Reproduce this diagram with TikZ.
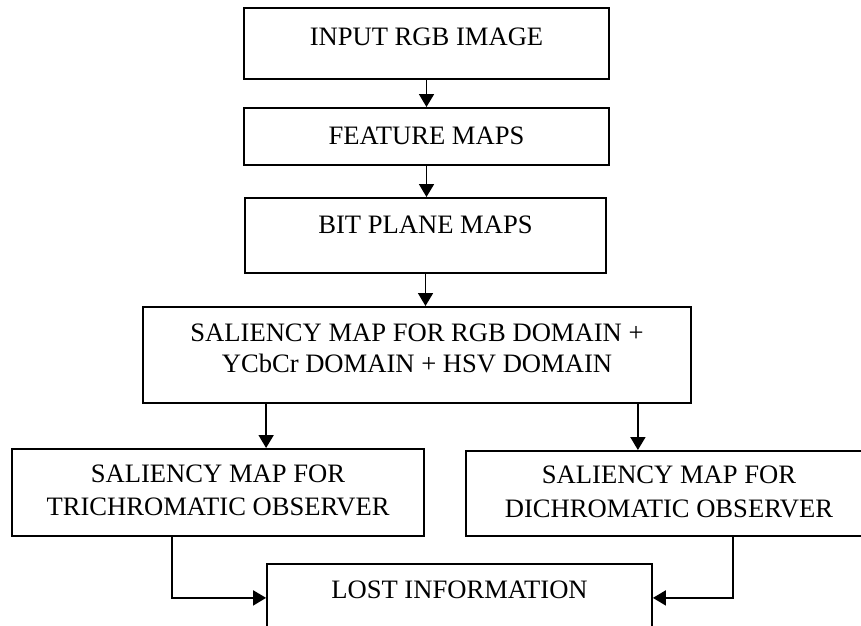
\documentclass[tikz,border=0pt]{standalone}
\usepackage{fontspec}
\setmainfont{Liberation Serif}
\usetikzlibrary{arrows.meta}
\newcommand{\padup}[1]{\rule{0pt}{#1pt}}
\newcommand{\paddown}[1]{\rule[-#1pt]{0pt}{#1pt}}
\begin{document}
\begin{tikzpicture}[x=1pt,y=-1pt,
    bx/.style={draw,line width=1.8pt,inner sep=0pt,anchor=north,align=center,font=\fontsize{26.6}{31}\selectfont},
    ar/.style={line width=1.8pt,-{Triangle[length=13pt,width=15pt]}}]
        \useasboundingbox (0,0) rectangle (861,625);
        \clip (0,0) rectangle (861,625);
        \node[bx,minimum width=365pt] (b1) at (426.5,7) {\padup{38}INPUT RGB IMAGE\paddown{33}};
        \node[bx,minimum width=365pt] (b2) at (426.5,107) {\padup{37}FEATURE MAPS\paddown{20}};
        \node[bx,minimum width=361pt] (b3) at (425.5,197) {\padup{36}BIT PLANE MAPS\paddown{39}};
        \node[bx,minimum width=548pt] (b4) at (417,306) {\padup{35}SALIENCY MAP FOR RGB DOMAIN +\\YCbCr DOMAIN + HSV DOMAIN\paddown{30}};
        \node[bx,minimum width=412pt] (b5) at (218,448) {\padup{34}SALIENCY MAP FOR\\[2pt]TRICHROMATIC OBSERVER\paddown{20}};
        \node[bx,minimum width=406pt] (b6) at (669,450) {\padup{33}SALIENCY MAP FOR\\[3pt]DICHROMATIC OBSERVER\paddown{18}};
        \node[bx,minimum width=385pt] (b7) at (459.5,563) {\padup{35}LOST INFORMATION\paddown{33}};
        % connectors
        \draw[ar] (b1.south) -- (b1.south |- b2.north);
        \draw[ar] (b2.south) -- (b2.south |- b3.north);
        \draw[ar] (b3.south) -- (b3.south |- b4.north);
        \draw[ar] ([xshift=124pt]b4.south west) -- ([xshift=124pt]b4.south west |- b5.north);
        \draw[ar] ([xshift=-54pt]b4.south east) -- ([xshift=-54pt]b4.south east |- b6.north);
        \draw[ar] ([xshift=161pt]b5.south west) |- (b7.west);
        \draw[ar] ([xshift=268pt]b6.south west) |- (b7.east);
    \end{tikzpicture}
\end{document}
